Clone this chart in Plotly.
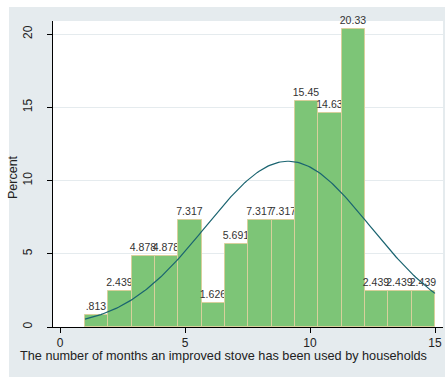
import numpy as np
import plotly.graph_objects as go

# Months an improved stove has been in use (one bin per month value)
months = list(range(1, 16))
percent = [0.813, 2.439, 4.878, 4.878, 7.317, 1.626, 5.691, 7.317, 7.317,
           15.45, 14.63, 20.33, 2.439, 2.439, 2.439]
n_households = 123

x_ticks = [0, 5, 10, 15]
y_ticks = [0, 5, 10, 15, 20]

# Histogram bins: 15 equal bins spanning min..max
lo, hi = min(months), max(months)
nbins = len(months)
bw = (hi - lo) / nbins
centers = [lo + bw * (i + 0.5) for i in range(nbins)]


def fmt(v):
    s = f"{v:.4g}"
    return s[1:] if s.startswith("0.") else s


labels = [fmt(v) for v in percent]

# Normal density overlay, scaled to percent per bin
w = np.array(percent) / 100.0
m = np.array(months, dtype=float)
mu = float((w * m).sum())
var = float((w * (m - mu) ** 2).sum()) * n_households / (n_households - 1)
sd = var ** 0.5
xs = np.linspace(lo, hi, 200)
ys = 100 * bw * np.exp(-0.5 * ((xs - mu) / sd) ** 2) / (sd * np.sqrt(2 * np.pi))

FONT = "Arial, 'Liberation Sans', sans-serif"
BG = "#e5ebee"

fig = go.Figure()
fig.add_trace(go.Bar(
    x=centers, y=percent, width=[bw] * nbins,
    marker=dict(color="#7dc577", line=dict(color="#d8d09c", width=1)),
    text=labels, textposition="outside", constraintext="none",
    textfont=dict(size=10.5, color="#333333", family=FONT),
    cliponaxis=False, showlegend=False, hoverinfo="skip",
))
fig.add_trace(go.Scatter(
    x=xs, y=ys, mode="lines",
    line=dict(color="#1a6470", width=1.2),
    showlegend=False, hoverinfo="skip",
))

L, R, T, B = 53, 2, 21, 50
W, H = 445, 377
pw, ph = W - L - R, H - T - B


def px_x(p):
    return (p - L) / pw


def px_y(p):
    return (H - B - p) / ph


fig.update_layout(
    width=W, height=H,
    margin=dict(l=L, r=R, t=T, b=B, pad=0),
    paper_bgcolor=BG, plot_bgcolor="white",
    font=dict(family=FONT, size=12, color="#222222"),
    bargap=0,
    xaxis=dict(
        range=[-0.28, 15.32], tickvals=x_ticks, ticks="outside", ticklen=5,
        tickcolor="black", showline=True, linecolor="black", linewidth=1,
        showgrid=False, zeroline=False, tickfont=dict(size=12),
    ),
    yaxis=dict(
        range=[0, 20.89], tickvals=y_ticks, ticks="outside", ticklen=5,
        tickcolor="black", showline=True, linecolor="black", linewidth=1,
        showgrid=True, gridcolor=BG, gridwidth=1.3, zeroline=False,
        tickangle=-90, tickfont=dict(size=12), ticklabelstandoff=10,
    ),
    shapes=[
        # white border strips around the graph region
        dict(type="rect", xref="paper", yref="paper", layer="below",
             x0=px_x(0), x1=px_x(W), y0=px_y(7), y1=px_y(0),
             fillcolor="white", line=dict(width=0)),
        dict(type="rect", xref="paper", yref="paper", layer="below",
             x0=px_x(0), x1=px_x(9), y0=px_y(H), y1=px_y(0),
             fillcolor="white", line=dict(width=0)),
    ],
    annotations=[
        dict(text="The number of months an improved stove has been used by households",
             xref="paper", yref="paper", x=px_x(223), y=px_y(356),
             xanchor="center", yanchor="middle", showarrow=False,
             font=dict(size=12.7, color="#222222")),
        dict(text="Percent", textangle=-90,
             xref="paper", yref="paper", x=px_x(13), y=px_y(177),
             xanchor="center", yanchor="middle", showarrow=False,
             font=dict(size=12.5, color="#222222")),
    ],
)

fig.write_html("out.html", config={"displayModeBar": False})
